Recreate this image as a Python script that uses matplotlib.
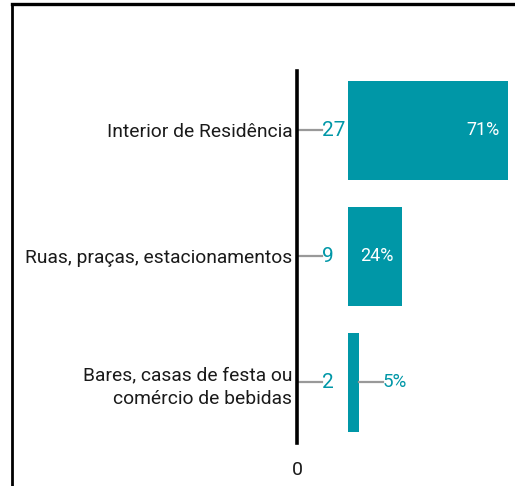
import matplotlib.pyplot as plt
from matplotlib.lines import Line2D

plt.rcParams['font.family'] = ['Roboto', 'DejaVu Sans']

categories = ['Interior de Residência', 'Ruas, praças, estacionamentos',
              'Bares, casas de festa ou\ncomércio de bebidas']
counts = [27, 9, 2]
percents = [71, 24, 5]

teal = '#0097a7'
grey = '#999999'

offset = 22.7      # gap between axis and start of bars, in % units
xmax = 95.6

fig = plt.figure(figsize=(5.15, 4.86), dpi=100)
ax = fig.add_axes([297 / 515, 1 - 443 / 486, 215 / 515, 372 / 486])

ypos = list(range(len(categories)))
ax.barh(ypos, percents, left=offset, height=0.786, color=teal)

ax.set_xlim(0, xmax)
ax.set_ylim(2.48, -0.47)

for y, c, p in zip(ypos, counts, percents):
    # count with leader line from axis
    ax.plot([0.4, 11], [y, y], color=grey, lw=1.6, clip_on=False)
    ax.text(11, y, str(c), color=teal, fontsize=15, ha='left', va='center')
    end = offset + p
    if p > 15:
        ax.text(end - 3.8, y, f'{p}%', color='white', fontsize=13,
                ha='right', va='center')
    else:
        ax.plot([end, end + 10.7], [y, y], color=grey, lw=1.6)
        ax.text(end + 10.5, y, f'{p}%', color=teal, fontsize=13.5,
                ha='left', va='center')

ax.set_yticks(ypos)
ax.set_yticklabels(categories, fontsize=13.9, color='#1a1a1a', linespacing=1.4)
ax.tick_params(axis='y', length=0, pad=3.5)
ax.set_xticks([0])
ax.set_xticklabels(['0'], fontsize=14, color='#1a1a1a')
ax.tick_params(axis='x', length=0, pad=13)

for s in ['top', 'right', 'bottom']:
    ax.spines[s].set_visible(False)
ax.spines['left'].set_linewidth(2.6)
ax.spines['left'].set_color('black')

# outer frame (top and left only)
fig.add_artist(Line2D([11.5 / 515, 1], [1 - 4 / 486, 1 - 4 / 486],
                      transform=fig.transFigure, color='black', lw=2.4))
fig.add_artist(Line2D([11.5 / 515, 11.5 / 515], [0, 1 - 4 / 486],
                      transform=fig.transFigure, color='black', lw=2.0))

fig.savefig('out.png', dpi=100)
